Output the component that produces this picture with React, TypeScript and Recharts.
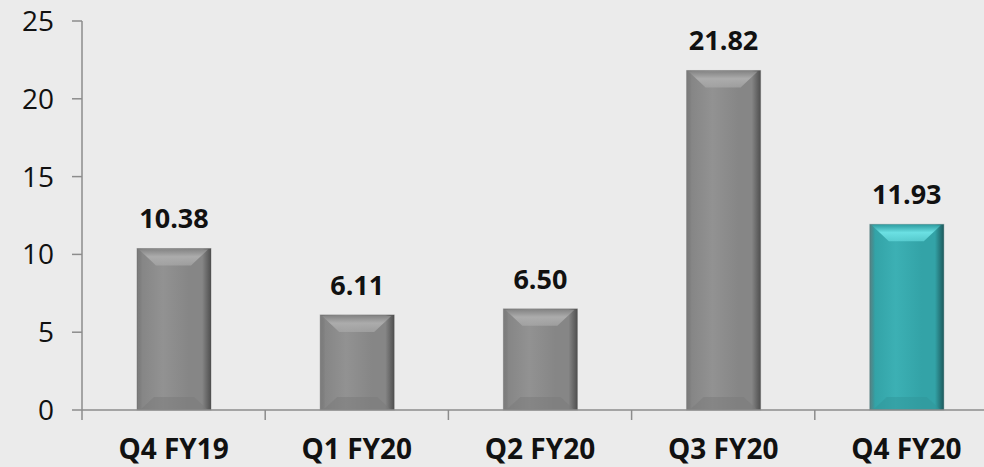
import React from "react";
import { BarChart, Bar, XAxis, YAxis, Cell, LabelList } from "recharts";

const quarters = ["Q4 FY19", "Q1 FY20", "Q2 FY20", "Q3 FY20", "Q4 FY20"];
const values = [10.38, 6.11, 6.5, 21.82, 11.93];
const yTicks = [0, 5, 10, 15, 20, 25];

const data = quarters.map((q, i) => ({ quarter: q, value: values[i] }));

const W = 1010;
const H = 467;
const MARGIN = { top: 21, right: 12, bottom: 0, left: 0 };
const Y_AXIS_W = 82;
const X_AXIS_H = 57;
const BAND = (W - MARGIN.left - MARGIN.right - Y_AXIS_W) / quarters.length;

const FONT = "'Open Sans', 'Liberation Sans', sans-serif";
const AXIS = "#8c8c8c";

const palettes = {
  gray: { edge: "#4f4f4f", mid: "#868686", light: "#929292", top: "#acacac", bottom: "#7a7a7a" },
  teal: { edge: "#1d5a5d", mid: "#33a3a7", light: "#3cb0b4", top: "#6be0e3", bottom: "#2f9599" },
};

// bevelled bar: shaded body, lighter top facet, subtle bottom facet
const BevelBar = (props: any) => {
  const { x, y, width, height, index } = props;
  if (!height || height <= 0) return null;
  const key = index === quarters.length - 1 ? "teal" : "gray";
  const p = palettes[key];
  const b = Math.min(17, height / 2);
  const gid = `body-${key}`;
  const tid = `top-${key}`;
  return (
    <g>
      <defs>
        <linearGradient id={gid} x1="0" y1="0" x2="1" y2="0">
          <stop offset="0" stopColor={p.edge} stopOpacity={0.7} />
          <stop offset="0.07" stopColor={p.mid} />
          <stop offset="0.35" stopColor={p.light} />
          <stop offset="0.7" stopColor={p.mid} />
          <stop offset="0.88" stopColor={p.mid} />
          <stop offset="1" stopColor={p.edge} />
        </linearGradient>
        <linearGradient id={tid} x1="0" y1="0" x2="0" y2="1">
          <stop offset="0" stopColor={p.mid} />
          <stop offset="0.45" stopColor={p.top} />
          <stop offset="1" stopColor={p.top} stopOpacity={0.6} />
        </linearGradient>
      </defs>
      <rect x={x} y={y} width={width} height={height} fill={`url(#${gid})`} />
      <polygon
        points={`${x + 2},${y + 1} ${x + width - 3},${y + 1} ${x + width - b - 3},${y + b} ${x + b + 2},${y + b}`}
        fill={`url(#${tid})`}
      />
      <polygon
        points={`${x + 3},${y + height} ${x + width - 3},${y + height} ${x + width - b},${y + height - b + 4} ${x + b},${y + height - b + 4}`}
        fill={p.bottom}
        opacity={0.5}
      />
      <rect x={x} y={y} width={width} height={height} fill="none" stroke={p.edge} strokeOpacity={0.35} strokeWidth={1} />
    </g>
  );
};

// category label plus a tick mark on the left edge of each band
const QuarterTick = (props: any) => {
  const { x, y, payload } = props;
  const left = x - BAND / 2;
  return (
    <g>
      <line x1={left} y1={y} x2={left} y2={y + 10} stroke={AXIS} strokeWidth={1.5} />
      <text x={x} y={y + 49} textAnchor="middle" fontFamily={FONT} fontWeight={700} fontSize={28} fill="#111">
        {payload.value}
      </text>
    </g>
  );
};

export default function App() {
  return (
    <div
      style={{
        position: "fixed",
        left: 0,
        top: 0,
        width: 984,
        height: 467,
        overflow: "hidden",
        background: "#ebebeb",
      }}
    >
      <BarChart width={W} height={H} data={data} margin={MARGIN}>
        <YAxis
          width={Y_AXIS_W}
          domain={[0, 25]}
          ticks={yTicks}
          interval={0}
          axisLine={{ stroke: AXIS, strokeWidth: 1.5 }}
          tickLine={{ stroke: AXIS, strokeWidth: 1.5 }}
          tickSize={10}
          tickMargin={18}
          tick={{ fontFamily: FONT, fontSize: 28, fill: "#111" }}
        />
        <XAxis
          dataKey="quarter"
          height={X_AXIS_H}
          interval={0}
          axisLine={{ stroke: AXIS, strokeWidth: 1.5 }}
          tickLine={false}
          tickSize={0}
          tickMargin={0}
          tick={<QuarterTick />}
        />
        <Bar dataKey="value" barSize={74} shape={<BevelBar />} isAnimationActive={false}>
          {data.map((d) => (
            <Cell key={d.quarter} />
          ))}
          <LabelList
            dataKey="value"
            position="top"
            offset={20}
            formatter={(v: any) => Number(v).toFixed(2)}
            style={{ fontFamily: FONT, fontWeight: 700, fontSize: 27, fill: "#111" }}
          />
        </Bar>
      </BarChart>
    </div>
  );
}
